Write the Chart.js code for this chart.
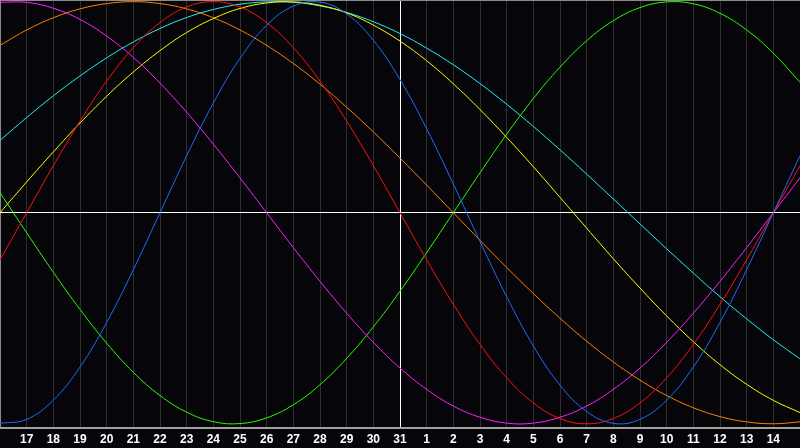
<!DOCTYPE html>
<html>
<head>
<meta charset="utf-8">
<script src="https://cdn.jsdelivr.net/npm/chart.js@4/dist/chart.umd.min.js"></script>
<style>
	html, body { margin: 0; padding: 0; background: #06060a; }
	#wrap { width: 800px; height: 448px; }
</style>
</head>
<body>
<div id="wrap"><canvas id="bioChart" width="800" height="448"></canvas></div>
<script>
// day labels, one per grid line (16 .. 31, 1 .. 15)
const days = ['16', '17', '18', '19', '20', '21', '22', '23', '24', '25', '26', '27', '28', '29', '30', '31',
	'1', '2', '3', '4', '5', '6', '7', '8', '9', '10', '11', '12', '13', '14', '15'];

// curve values (-1 .. 1)
const blueVals = [-0.998, -0.979, -0.888, -0.731, -0.520, -0.270, 0.000, 0.270, 0.520, 0.731, 0.888, 0.979, 0.998, 0.942, 0.817, 0.631,
	0.398, 0.136, -0.136, -0.398, -0.631, -0.817, -0.942, -0.998, -0.979, -0.888, -0.731, -0.520, -0.270, 0.000, 0.270];
const redVals = [-0.223, 0.000, 0.223, 0.434, 0.624, 0.782, 0.901, 0.975, 1.000, 0.975, 0.901, 0.782, 0.624, 0.434, 0.223, 0.000,
	-0.223, -0.434, -0.624, -0.782, -0.901, -0.975, -1.000, -0.975, -0.901, -0.782, -0.624, -0.434, -0.223, 0.000, 0.223];
const greenVals = [0.095, -0.095, -0.282, -0.458, -0.618, -0.756, -0.866, -0.945, -0.990, -0.999, -0.972, -0.910, -0.815, -0.690, -0.541, -0.372,
	-0.189, 0.000, 0.189, 0.372, 0.541, 0.690, 0.815, 0.910, 0.972, 0.999, 0.990, 0.945, 0.866, 0.756, 0.618];
const magentaVals = [0.997, 0.997, 0.969, 0.916, 0.837, 0.736, 0.614, 0.476, 0.325, 0.165, 0.000, -0.165, -0.325, -0.476, -0.614, -0.736,
	-0.837, -0.916, -0.969, -0.997, -0.997, -0.969, -0.916, -0.837, -0.736, -0.614, -0.476, -0.325, -0.165, 0.000, 0.165];
const yellowVals = [0.000, 0.146, 0.288, 0.425, 0.552, 0.667, 0.768, 0.854, 0.920, 0.968, 0.994, 0.999, 0.983, 0.947, 0.889, 0.813,
	0.720, 0.611, 0.489, 0.357, 0.218, 0.073, -0.073, -0.218, -0.357, -0.489, -0.611, -0.720, -0.813, -0.889, -0.947];
const orangeVals = [0.793, 0.866, 0.924, 0.966, 0.991, 1.000, 0.991, 0.966, 0.924, 0.866, 0.793, 0.707, 0.609, 0.500, 0.383, 0.259,
	0.131, 0.000, -0.131, -0.259, -0.383, -0.500, -0.609, -0.707, -0.793, -0.866, -0.924, -0.966, -0.991, -1.000, -0.991];
const cyanVals = [0.343, 0.451, 0.554, 0.648, 0.734, 0.809, 0.873, 0.925, 0.963, 0.988, 0.999, 0.997, 0.980, 0.949, 0.905, 0.849,
	0.780, 0.701, 0.612, 0.514, 0.409, 0.298, 0.183, 0.065, -0.053, -0.171, -0.286, -0.398, -0.503, -0.602, -0.692];

const todayIndex = 15;

function toPoints(vals) {
	return vals.map((v, i) => ({ x: i, y: v }));
}

function line(vals, color) {
	return {
		data: toPoints(vals),
		borderColor: color,
		borderWidth: 1,
		pointRadius: 0,
		tension: 0.4,
		fill: false
	};
}

// paint the dark background behind everything
const bgPlugin = {
	id: 'bg',
	beforeDraw(chart) {
		const c = chart.ctx;
		c.save();
		c.fillStyle = '#06060a';
		c.fillRect(0, 0, chart.width, chart.height);
		c.restore();
	}
};

const ctx = document.getElementById('bioChart');
const bioChart = new Chart(ctx, {
	type: 'line',
	data: {
		datasets: [
			line(blueVals, '#1a6cff'),
			line(redVals, '#ff1010'),
			line(magentaVals, '#ff22ff'),
			line(yellowVals, '#ffff00'),
			line(cyanVals, '#22eeee'),
			line(greenVals, '#22ff00'),
			line(orangeVals, '#ff7f00')
		]
	},
	options: {
		responsive: false,
		animation: false,
		events: [],
		layout: { padding: 0 },
		plugins: {
			legend: { display: false },
			tooltip: { enabled: false }
		},
		scales: {
			x: {
				type: 'linear',
				min: 0,
				max: days.length - 1,
				afterFit(scale) {
					scale.height = 20;
					scale.paddingLeft = 0;
					scale.paddingRight = 0;
				},
				afterBuildTicks(scale) {
					scale.ticks = days.map((d, i) => ({ value: i }));
				},
				ticks: {
					autoSkip: false,
					maxRotation: 0,
					padding: 4,
					color: '#ffffff',
					font: { family: 'Liberation Sans', size: 12, weight: 'bold' },
					callback: (v) => (v === 0 || v === days.length - 1) ? '' : days[v]
				},
				grid: {
					drawTicks: false,
					color: (c) => {
						const v = c.tick.value;
						if (v === todayIndex) return '#ffffff';
						if (v === 0 || v === days.length - 1) return '#8a8a8a';
						return '#2e2e2e';
					}
				},
				border: { display: true, color: '#a0a0a0', width: 2 }
			},
			y: {
				type: 'linear',
				min: -1.02,
				max: 1.008,
				afterFit(scale) {
					scale.width = 0;
					scale.paddingTop = 0;
					scale.paddingBottom = 0;
				},
				afterBuildTicks(scale) {
					scale.ticks = [{ value: 0 }, { value: 1.008 }];
				},
				ticks: { display: false },
				grid: {
					drawTicks: false,
					color: (c) => c.tick.value === 0 ? '#ffffff' : '#8a8a8a'
				},
				border: { display: false }
			}
		}
	},
	plugins: [bgPlugin]
});
</script>
</body>
</html>
